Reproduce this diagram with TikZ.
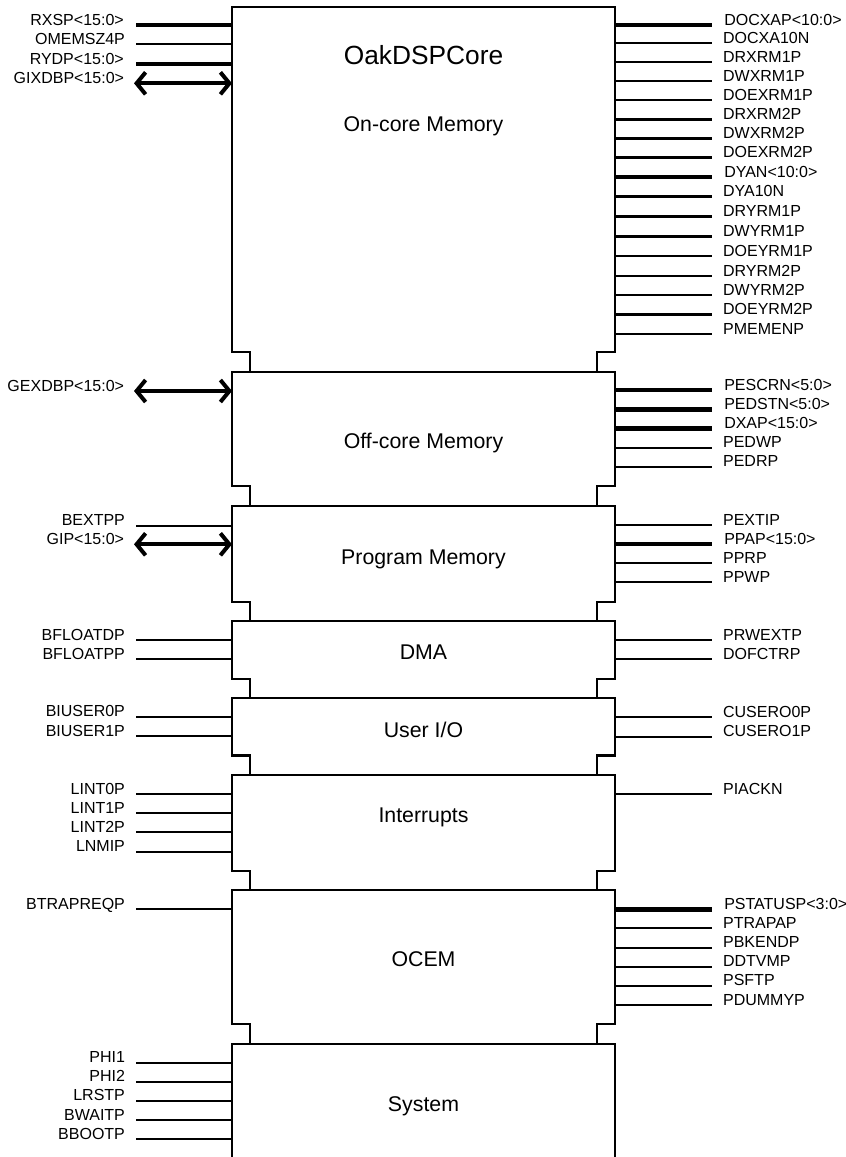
\documentclass[tikz,border=0pt]{standalone}
\usepackage{fontspec}
\setmainfont{Liberation Sans}
\usepackage{tikz}
\usetikzlibrary{arrows.meta}

\tikzset{
  outline/.style={line width=2.2pt},
  pin/.style={line width=2.2pt},
  bus/.style={line width=4.5pt},
  dbus/.style={line width=4pt, <->},
  lpin/.style={anchor=base east, inner sep=0pt, xshift=-10pt, font=\fontsize{16}{19}\selectfont},
  rpin/.style={anchor=base west, inner sep=0pt, xshift=10pt, font=\fontsize{16}{19}\selectfont},
  blockname/.style={anchor=base, inner sep=0pt, font=\fontsize{21.3}{25}\selectfont}
}

\begin{document}
\begin{tikzpicture}[x=1pt, y=-1pt, >={Straight Barb[length=9pt, width=22pt]}]
  \useasboundingbox (0,0) rectangle (846,1157);

  % Block outlines with the necks between them
  \draw[outline] (250,371.7) -- (250,352.3) -- (232,352.3) -- (232,7) -- (615,7) -- (615,352.3) -- (597,352.3) -- (597,371.7);
  \draw[outline] (250,506) -- (250,486) -- (232,486) -- (232,371.7) -- (615,371.7) -- (615,486) -- (597,486) -- (597,506);
  \draw[outline] (250,621) -- (250,602) -- (232,602) -- (232,506) -- (615,506) -- (615,602) -- (597,602) -- (597,621);
  \draw[outline] (250,698) -- (250,678.7) -- (232,678.7) -- (232,621) -- (615,621) -- (615,678.7) -- (597,678.7) -- (597,698);
  \draw[outline] (250,775.3) -- (250,755.5) -- (232,755.5) -- (232,698) -- (615,698) -- (615,755.5) -- (597,755.5) -- (597,775.3);
  \draw[outline] (250,890) -- (250,871) -- (232,871) -- (232,775.3) -- (615,775.3) -- (615,871) -- (597,871) -- (597,890);
  \draw[outline] (250,1043.7) -- (250,1024.3) -- (232,1024.3) -- (232,890) -- (615,890) -- (615,1024.3) -- (597,1024.3) -- (597,1043.7);
  \draw[outline] (232,1157) -- (232,1043.7) -- (615,1043.7) -- (615,1157);

  % Block names
  \node[blockname, font=\fontsize{26.3}{30}\selectfont] (oakdsp) at (423.5,64.3) {OakDSPCore};
  \node[blockname] (oncore) at (423.5,131) {On-core Memory};
  \node[blockname] (offcore) at (423.5,448.3) {Off-core Memory};
  \node[blockname] (progmem) at (423.5,564.3) {Program Memory};
  \node[blockname] (dma) at (423.5,659.3) {DMA};
  \node[blockname] (userio) at (423.5,737.3) {User I/O};
  \node[blockname] (intr) at (423.5,822.7) {Interrupts};
  \node[blockname] (ocem) at (423.5,966.7) {OCEM};
  \node[blockname] (system) at (423.5,1111) {System};

  % Left pins
  \draw[bus] (232,25) -- (136,25) node[lpin] (rxsp) {RXSP<15:0>};
  \draw[pin] (232,44.3) -- (136,44.3) node[lpin] (omemsz4p) {OMEMSZ4P};
  \draw[bus] (232,64) -- (136,64) node[lpin] (rydp) {RYDP<15:0>};
  \draw[dbus] (232,83.3) -- (134,83.3) node[lpin, xshift=2pt] (gixdbp) {GIXDBP<15:0>};
  \draw[dbus] (232,391) -- (134,391) node[lpin, xshift=2pt] (gexdbp) {GEXDBP<15:0>};
  \draw[pin] (232,525.7) -- (136,525.7) node[lpin] (bextpp) {BEXTPP};
  \draw[dbus] (232,544.3) -- (134,544.3) node[lpin, xshift=2pt] (gip) {GIP<15:0>};
  \draw[pin] (232,640) -- (136,640) node[lpin] (bfloatdp) {BFLOATDP};
  \draw[pin] (232,659) -- (136,659) node[lpin] (bfloatpp) {BFLOATPP};
  \draw[pin] (232,716.7) -- (136,716.7) node[lpin] (biuser0p) {BIUSER0P};
  \draw[pin] (232,736) -- (136,736) node[lpin] (biuser1p) {BIUSER1P};
  \draw[pin] (232,794) -- (136,794) node[lpin] (lint0p) {LINT0P};
  \draw[pin] (232,813) -- (136,813) node[lpin] (lint1p) {LINT1P};
  \draw[pin] (232,832.3) -- (136,832.3) node[lpin] (lint2p) {LINT2P};
  \draw[pin] (232,851.7) -- (136,851.7) node[lpin] (lnmip) {LNMIP};
  \draw[pin] (232,909.3) -- (136,909.3) node[lpin] (btrapreqp) {BTRAPREQP};
  \draw[pin] (232,1062.7) -- (136,1062.7) node[lpin] (phi1) {PHI1};
  \draw[pin] (232,1081.7) -- (136,1081.7) node[lpin] (phi2) {PHI2};
  \draw[pin] (232,1100.7) -- (136,1100.7) node[lpin] (lrstp) {LRSTP};
  \draw[pin] (232,1120) -- (136,1120) node[lpin] (bwaitp) {BWAITP};
  \draw[pin] (232,1139.3) -- (136,1139.3) node[lpin] (bbootp) {BBOOTP};

  % Right pins
  \draw[bus] (615,25) -- (712,25) node[rpin] (docxap) {DOCXAP<10:0>};
  \draw[pin] (615,43) -- (712,43) node[rpin] (docxa10n) {DOCXA10N};
  \draw[pin] (615,62) -- (712,62) node[rpin] (drxrm1p) {DRXRM1P};
  \draw[pin] (615,81) -- (712,81) node[rpin] (dwxrm1p) {DWXRM1P};
  \draw[pin] (615,100) -- (712,100) node[rpin] (doexrm1p) {DOEXRM1P};
  \draw[pin] (615,119.5) -- (712,119.5) node[rpin] (drxrm2p) {DRXRM2P};
  \draw[pin] (615,138.5) -- (712,138.5) node[rpin] (dwxrm2p) {DWXRM2P};
  \draw[pin] (615,157.5) -- (712,157.5) node[rpin] (doexrm2p) {DOEXRM2P};
  \draw[bus] (615,177) -- (712,177) node[rpin] (dyan) {DYAN<10:0>};
  \draw[pin] (615,196.5) -- (712,196.5) node[rpin] (dya10n) {DYA10N};
  \draw[pin] (615,216.5) -- (712,216.5) node[rpin] (dryrm1p) {DRYRM1P};
  \draw[pin] (615,236.5) -- (712,236.5) node[rpin] (dwyrm1p) {DWYRM1P};
  \draw[pin] (615,256) -- (712,256) node[rpin] (doeyrm1p) {DOEYRM1P};
  \draw[pin] (615,276) -- (712,276) node[rpin] (dryrm2p) {DRYRM2P};
  \draw[pin] (615,295) -- (712,295) node[rpin] (dwyrm2p) {DWYRM2P};
  \draw[pin] (615,314.5) -- (712,314.5) node[rpin] (doeyrm2p) {DOEYRM2P};
  \draw[pin] (615,334) -- (712,334) node[rpin] (pmemenp) {PMEMENP};
  \draw[bus] (615,390) -- (712,390) node[rpin] (pescrn) {PESCRN<5:0>};
  \draw[bus] (615,409.3) -- (712,409.3) node[rpin] (pedstn) {PEDSTN<5:0>};
  \draw[bus] (615,428.7) -- (712,428.7) node[rpin] (dxap) {DXAP<15:0>};
  \draw[pin] (615,447.7) -- (712,447.7) node[rpin] (pedwp) {PEDWP};
  \draw[pin] (615,466.7) -- (712,466.7) node[rpin] (pedrp) {PEDRP};
  \draw[pin] (615,525) -- (712,525) node[rpin] (pextip) {PEXTIP};
  \draw[bus] (615,544) -- (712,544) node[rpin] (ppap) {PPAP<15:0>};
  \draw[pin] (615,563.3) -- (712,563.3) node[rpin] (pprp) {PPRP};
  \draw[pin] (615,582.3) -- (712,582.3) node[rpin] (ppwp) {PPWP};
  \draw[pin] (615,640) -- (712,640) node[rpin] (prwextp) {PRWEXTP};
  \draw[pin] (615,659.3) -- (712,659.3) node[rpin] (dofctrp) {DOFCTRP};
  \draw[pin] (615,717.3) -- (712,717.3) node[rpin] (cusero0p) {CUSERO0P};
  \draw[pin] (615,736.7) -- (712,736.7) node[rpin] (cusero1p) {CUSERO1P};
  \draw[pin] (615,794) -- (712,794) node[rpin] (piackn) {PIACKN};
  \draw[bus] (615,909.3) -- (712,909.3) node[rpin] (pstatusp) {PSTATUSP<3:0>};
  \draw[pin] (615,928.3) -- (712,928.3) node[rpin] (ptrapap) {PTRAPAP};
  \draw[pin] (615,947.7) -- (712,947.7) node[rpin] (pbkendp) {PBKENDP};
  \draw[pin] (615,966.7) -- (712,966.7) node[rpin] (ddtvmp) {DDTVMP};
  \draw[pin] (615,985.7) -- (712,985.7) node[rpin] (psftp) {PSFTP};
  \draw[pin] (615,1005) -- (712,1005) node[rpin] (pdummyp) {PDUMMYP};
\end{tikzpicture}
\end{document}
